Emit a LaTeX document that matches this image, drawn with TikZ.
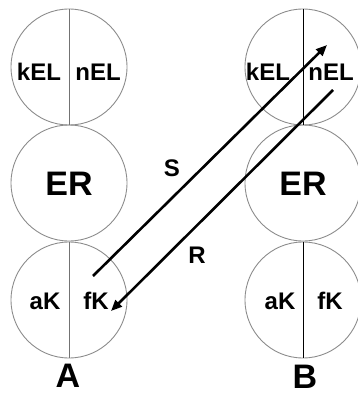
\documentclass[tikz,border=0pt]{standalone}
\usepackage{fontspec}
\setmainfont{Liberation Sans}
\usetikzlibrary{arrows.meta}
\begin{document}
\begin{tikzpicture}[x=1pt,y=-1pt,
  cell/.style={circle,draw=black!45,line width=0.9pt,minimum size=116pt,inner sep=0pt},
  lbl/.style={font=\bfseries\fontsize{24}{24}\selectfont,inner sep=0pt},
  big/.style={font=\bfseries\fontsize{34}{34}\selectfont,inner sep=0pt},
  flow/.style={line width=2.6pt,-{Triangle[length=11pt,width=9pt]}}]
\useasboundingbox (0,0) rectangle (358,396);
% column A
\node[cell] (a1) at (69,67) {};
\node[cell] (a2) at (69,183) {};
\node[cell] (a3) at (69,300) {};
\draw[black!55,line width=0.9pt] (a1.north) -- (a1.south);
\draw[black!55,line width=0.9pt] (a3.north) -- (a3.south);
\node[lbl] (akel) at (39,72) {kEL};
\node[lbl] (anel) at (98,72) {nEL};
\node[big] (aer) at (69,184) {ER};
\node[lbl] (aak) at (45,301) {aK};
\node[lbl] (afk) at (96,301) {fK};
\node[big] (la) at (68,376) {A};
% column B
\node[cell] (b1) at (303,67) {};
\node[cell] (b2) at (303,183) {};
\node[cell] (b3) at (303,300) {};
\draw[black,line width=0.9pt] (b1.north) -- (b1.south);
\draw[black,line width=0.9pt] (b3.north) -- (b3.south);
\node[lbl] (bkel) at (268,72) {kEL};
\node[lbl] (bnel) at (331,72) {nEL};
\node[big] (ber) at (303,184) {ER};
\node[lbl] (bak) at (280,301) {aK};
\node[lbl] (bfk) at (330,301) {fK};
\node[big] (lb) at (305,377) {B};
% transfer arrows
\coordinate (s0) at (93,276);
\coordinate (s1) at (327,45);
\coordinate (r0) at (333,90);
\coordinate (r1) at (111,311);
\draw[flow] (s0) -- (s1);
\draw[flow] (r0) -- (r1);
\node[lbl] (ls) at (172,168) {S};
\node[lbl] (lr) at (197,255) {R};
\end{tikzpicture}
\end{document}
